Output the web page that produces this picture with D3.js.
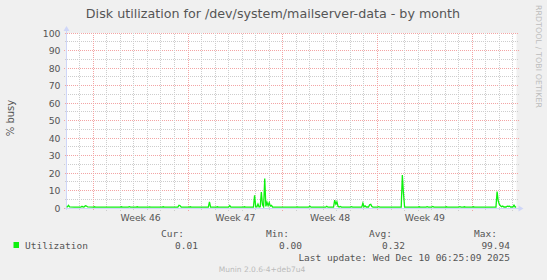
<!DOCTYPE html>
<html>
<head>
<meta charset="utf-8">
<script src="https://cdn.jsdelivr.net/npm/d3@7"></script>
<style>
body { margin: 0; background: #f0f0f0; }
svg { display: block; }
text { font-family: "DejaVu Sans", sans-serif; }
.mono { font-family: "DejaVu Sans Mono", monospace; }
</style>
</head>
<body>
<script>
// graph window (UTC)
var rangeStart = "2025-11-08T00:30:00Z"
var rangeEnd = "2025-12-11T06:25:00Z"
var sampleBase = "2025-11-08T00:00:00Z"

var yTickValues = [0, 10, 20, 30, 40, 50, 60, 70, 80, 90, 100]
var weekLabels = ["Week 46", "Week 47", "Week 48", "Week 49"]
var weekStarts = ["2025-11-10", "2025-11-17", "2025-11-24", "2025-12-01"]

var legendHeads = ["Cur:", "Min:", "Avg:", "Max:"]
var legendValues = ["0.01", "0.00", "0.32", "99.94"]

// [hours after sampleBase, % busy]
var busySamples = [
  [0,0.3],[2,0.4],[4,1.2],[6,0.3],[14,0.2],[26,0.2],[28,0.7],[30,0.3],[32,0.4],[34,1.0],[36,0.8],[38,0.3],
  [48,0.2],[50,0.4],[52,0.2],[70,0.2],[96,0.2],[98,0.4],[100,0.2],[110,0.2],[112,0.5],[114,0.2],
  [124,0.2],[126,0.4],[128,0.2],[146,0.2],[148,0.3],[150,0.2],[170,0.2],[172,0.4],[174,0.2],
  [198,0.2],[200,1.3],[202,1.0],[204,0.2],[218,0.2],[220,0.4],[222,0.2],[252,0.2],[254,3.2],[256,0.2],
  [266,0.2],[268,0.4],[270,0.2],[288,0.2],[290,1.1],[292,0.2],[314,0.2],[316,0.4],[318,0.2],
  [332,0.2],[334,7.0],[336,0.4],[338,0.3],[340,2.0],[342,0.3],[344,0.4],[346,8.8],[348,1.5],[350,0.4],
  [352,16.5],[354,0.6],[356,3.0],[358,1.0],[360,2.8],[362,0.8],[364,1.2],[366,0.2],
  [408,0.2],[410,0.3],[412,0.2],[430,0.2],[432,0.8],[434,0.2],[460,0.2],[462,0.7],[464,0.2],
  [474,0.2],[476,4.2],[478,2.0],[480,3.2],[482,0.6],[484,0.3],[486,0.6],[488,0.2],
  [504,0.2],[506,0.5],[508,0.2],[524,0.2],[526,2.4],[528,0.4],[530,0.9],[532,0.3],
  [536,0.3],[538,1.6],[540,1.8],[542,0.5],[544,0.2],[552,0.2],[554,0.5],[556,0.2],
  [594,0.2],[596,18.5],[598,8.0],[600,0.2],[624,0.2],[626,0.4],[628,0.2],[638,0.2],[640,0.5],[642,0.2],
  [648,0.2],[650,0.6],[652,0.2],[672,0.2],[674,0.4],[676,0.2],[696,0.2],[698,0.5],[700,0.2],
  [704,0.2],[706,0.4],[708,0.2],[720,0.2],[722,0.4],[724,0.2],
  [762,0.2],[764,9.1],[766,3.8],[768,1.8],[770,1.0],[772,0.4],[774,0.8],[776,0.3],
  [780,0.3],[782,0.8],[784,0.6],[786,0.8],[788,0.3],[792,0.3],[794,1.3],[796,0.3],[798,0.3]
]

var W = 547, H = 280
var plot = {left: 66.5, right: 516.5, top: 33, bottom: 208}
var green = "#0ef00e"
var textCol = "#555"
var minorCol = "#cdcdcd"
var majorCol = "#f3a4a4"

var svg = d3.select("body").append("svg")
    .attr("width", W)
    .attr("height", H)

svg.append("rect").attr("width", W).attr("height", H).attr("fill", "#f0f0f0")

// checkerboard patterns -> 1px dotted lines in both directions
var defs = svg.append("defs")
var dots = function(id, col) {
  var p = defs.append("pattern").attr("id", id)
      .attr("width", 2).attr("height", 2)
      .attr("patternUnits", "userSpaceOnUse")
  p.append("rect").attr("width", 1).attr("height", 1).attr("fill", col)
  p.append("rect").attr("x", 1).attr("y", 1).attr("width", 1).attr("height", 1).attr("fill", col)
}
dots("dotMinor", minorCol)
dots("dotMajor", majorCol)

var t0 = new Date(rangeStart), t1 = new Date(rangeEnd)
var base = new Date(sampleBase)

var x = d3.scaleUtc()
    .domain([t0, t1])
    .range([plot.left, plot.right])

var y = d3.scaleLinear()
    .domain([0, 100])
    .range([plot.bottom, plot.top])

var px = function(v) { return Math.round(v - 0.5) }

// canvas
svg.append("rect")
    .attr("x", plot.left)
    .attr("y", plot.top)
    .attr("width", plot.right - plot.left)
    .attr("height", plot.bottom - plot.top)
    .attr("fill", "#fff")

var grid = svg.append("g").attr("shape-rendering", "crispEdges")

// horizontal grid: minor every 5, major every 10
var minorY = d3.range(5, 100, 10)
var hLines = function(vals, fill) {
  grid.selectAll(null).data(vals).enter().append("rect")
      .attr("x", px(plot.left) - 2)
      .attr("width", px(plot.right) - px(plot.left) + 5)
      .attr("y", function(d) { return px(y(d)) })
      .attr("height", 1)
      .attr("fill", fill)
}
hLines(minorY, "url(#dotMinor)")
hLines(yTickValues, "url(#dotMajor)")

// vertical grid: days minor, weeks (monday) major
var weekTimes = d3.utcMonday.range(t0, t1)
var dayTimes = d3.utcDay.range(t0, t1).filter(function(d) { return d.getUTCDay() != 1 })
var vLines = function(vals, fill) {
  grid.selectAll(null).data(vals).enter().append("rect")
      .attr("x", function(d) { return px(x(d)) })
      .attr("width", 1)
      .attr("y", plot.top)
      .attr("height", plot.bottom - plot.top + 3)
      .attr("fill", fill)
}
vLines(dayTimes, "url(#dotMinor)")
vLines(weekTimes, "url(#dotMajor)")

// axes
var axisCol = "#cfd6f8"
var ax = px(plot.left) + 0.5, ay = px(y(0)) + 0.5
grid.append("line")
    .attr("x1", plot.left - 2).attr("x2", plot.right + 3)
    .attr("y1", ay).attr("y2", ay)
    .attr("stroke", axisCol)
grid.append("line")
    .attr("x1", ax).attr("x2", ax)
    .attr("y1", plot.bottom + 2).attr("y2", plot.top - 3)
    .attr("stroke", axisCol)
svg.append("path")
    .attr("d", "M" + (plot.right + 2) + "," + (ay - 3) + "L" + (plot.right + 7) + "," + ay + "L" + (plot.right + 2) + "," + (ay + 3) + "Z")
    .attr("fill", axisCol)
svg.append("path")
    .attr("d", "M" + (ax - 3) + "," + (plot.top - 2) + "L" + ax + "," + (plot.top - 7) + "L" + (ax + 3) + "," + (plot.top - 2) + "Z")
    .attr("fill", axisCol)

// data line
svg.append("clipPath").attr("id", "clip").append("rect")
    .attr("x", plot.left).attr("y", plot.top - 5)
    .attr("width", plot.right - plot.left).attr("height", plot.bottom - plot.top + 5)

var line = d3.line()
    .x(function(d) { return x(d3.utcHour.offset(base, d[0])) })
    .y(function(d) { return y(d[1]) - 0.5 })

svg.append("path")
    .datum(busySamples)
    .attr("clip-path", "url(#clip)")
    .attr("d", line)
    .attr("fill", "none")
    .attr("stroke", green)
    .attr("stroke-width", 1.3)

// y tick labels
svg.selectAll("text.ytick").data(yTickValues).enter().append("text")
    .attr("class", "ytick")
    .attr("x", 60.5)
    .attr("y", function(d) { return y(d) + 3.5 })
    .attr("text-anchor", "end")
    .attr("font-size", 9.3)
    .attr("fill", textCol)
    .text(function(d) { return d })

// week labels, centred in their week
svg.selectAll("text.wlab").data(weekLabels).enter().append("text")
    .attr("class", "wlab")
    .attr("x", function(d, i) { return x(d3.utcHour.offset(new Date(weekStarts[i]), 84)) })
    .attr("y", 221)
    .attr("text-anchor", "middle")
    .attr("font-size", 9.3)
    .attr("fill", textCol)
    .text(function(d) { return d })

// titles
svg.append("text")
    .attr("x", 273).attr("y", 18)
    .attr("text-anchor", "middle")
    .attr("font-size", 12.7)
    .attr("fill", textCol)
    .text("Disk utilization for /dev/system/mailserver-data - by month")

svg.append("text")
    .attr("transform", "translate(13.5,118) rotate(-90)")
    .attr("text-anchor", "middle")
    .attr("font-size", 10)
    .attr("fill", textCol)
    .text("% busy")

svg.append("text")
    .attr("transform", "translate(535.5,5) rotate(90)")
    .attr("font-size", 7.8)
    .attr("textLength", 103)
    .attr("fill", "#bdbdbd")
    .text("RRDTOOL / TOBI OETIKER")

// legend
var headX = [184, 289, 392, 497]
var valX = [198, 302, 405, 510]

svg.append("rect")
    .attr("x", 13.5).attr("y", 242)
    .attr("width", 5.5).attr("height", 6)
    .attr("fill", green)

svg.append("text").attr("class", "mono")
    .attr("x", 25).attr("y", 249)
    .attr("font-size", 9.5).attr("fill", textCol)
    .text("Utilization")

svg.selectAll("text.lhead").data(legendHeads).enter().append("text")
    .attr("class", "mono lhead")
    .attr("x", function(d, i) { return headX[i] })
    .attr("y", 237)
    .attr("text-anchor", "end")
    .attr("font-size", 9.5).attr("fill", textCol)
    .text(function(d) { return d })

svg.selectAll("text.lval").data(legendValues).enter().append("text")
    .attr("class", "mono lval")
    .attr("x", function(d, i) { return valX[i] })
    .attr("y", 249)
    .attr("text-anchor", "end")
    .attr("font-size", 9.5).attr("fill", textCol)
    .text(function(d) { return d })

svg.append("text").attr("class", "mono")
    .attr("x", 510).attr("y", 261)
    .attr("text-anchor", "end")
    .attr("font-size", 9.5).attr("fill", textCol)
    .text("Last update: Wed Dec 10 06:25:09 2025")

svg.append("text")
    .attr("x", 262).attr("y", 272)
    .attr("text-anchor", "middle")
    .attr("font-size", 7.5)
    .attr("fill", "#bbbbbb")
    .text("Munin 2.0.6-4+deb7u4")
</script>
</body>
</html>
